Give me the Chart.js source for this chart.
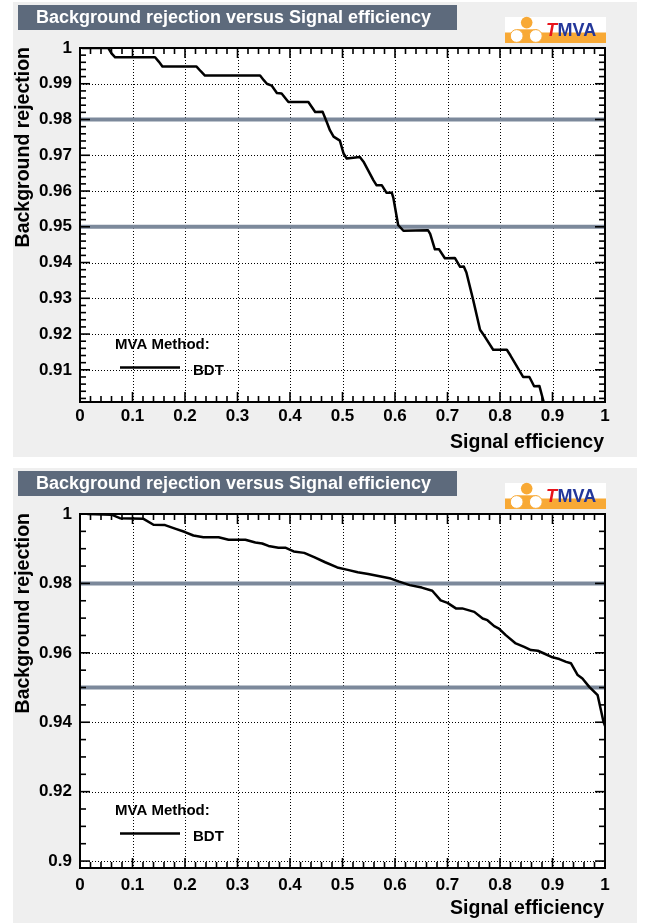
<!DOCTYPE html>
<html>
<head>
<meta charset="utf-8">
<script src="https://cdn.jsdelivr.net/npm/chart.js@4/dist/chart.umd.min.js"></script>
<style>
  html, body { margin: 0; padding: 0; background: #fff; }
  #wrap { position: relative; width: 648px; height: 923px; }
  canvas { position: absolute; left: 0; }
</style>
</head>
<body>
<div id="wrap">
  <canvas id="c1" width="648" height="462" style="top:0px"></canvas>
  <canvas id="c2" width="648" height="457" style="top:466px"></canvas>
</div>
<script>
// ---- labels ----
const titleText = 'Background rejection versus Signal efficiency';
const xAxisTitle = 'Signal efficiency';
const yAxisTitle = 'Background rejection';
const legendHeader = 'MVA Method:';
const methodName = 'BDT';

// ---- tick labels ----
const xTickLabels = ['0', '0.1', '0.2', '0.3', '0.4', '0.5', '0.6', '0.7', '0.8', '0.9', '1'];
const topYTickLabels = ['0.91', '0.92', '0.93', '0.94', '0.95', '0.96', '0.97', '0.98', '0.99', '1'];
const botYTickLabels = ['0.9', '0.92', '0.94', '0.96', '0.98', '1'];

// ---- reference rejection levels ----
const cutLevels = [0.98, 0.95];

// ---- upper panel: ROC curve ----
const topEff = [0.005, 0.054, 0.060, 0.067, 0.143, 0.150, 0.157, 0.222, 0.230, 0.238,
  0.343, 0.350, 0.356, 0.365, 0.375, 0.384, 0.397, 0.435, 0.448, 0.462,
  0.470, 0.476, 0.483, 0.495, 0.502, 0.508, 0.533, 0.540, 0.559, 0.565,
  0.575, 0.584, 0.594, 0.597, 0.606, 0.616, 0.663, 0.667, 0.676, 0.684,
  0.695, 0.714, 0.724, 0.731, 0.736, 0.749, 0.762, 0.771, 0.787, 0.813,
  0.820, 0.844, 0.856, 0.865, 0.875, 0.883, 0.886];
const topRej = [1.0000, 1.0000, 0.9985, 0.9974, 0.9974, 0.9962, 0.9948, 0.9948, 0.9935, 0.9923,
  0.9923, 0.9910, 0.9900, 0.9895, 0.9874, 0.9873, 0.9849, 0.9849, 0.9821, 0.9822,
  0.9793, 0.9770, 0.9752, 0.9741, 0.9705, 0.9691, 0.9695, 0.9682, 0.9630, 0.9616,
  0.9616, 0.9595, 0.9595, 0.9580, 0.9505, 0.9489, 0.9490, 0.9480, 0.9437, 0.9437,
  0.9412, 0.9413, 0.9388, 0.9389, 0.9372, 0.9295, 0.9212, 0.9193, 0.9156, 0.9156,
  0.9140, 0.9080, 0.9080, 0.9054, 0.9055, 0.9011, 0.8990];

// ---- lower panel: ROC curve ----
const botEff = [0.015, 0.060, 0.076, 0.121, 0.140, 0.162, 0.181, 0.200, 0.216, 0.235,
  0.264, 0.283, 0.315, 0.334, 0.347, 0.359, 0.378, 0.391, 0.407, 0.427,
  0.447, 0.467, 0.490, 0.510, 0.529, 0.549, 0.573, 0.592, 0.608, 0.628,
  0.651, 0.671, 0.687, 0.700, 0.716, 0.728, 0.751, 0.767, 0.776, 0.789,
  0.798, 0.811, 0.830, 0.846, 0.859, 0.872, 0.884, 0.900, 0.913, 0.926,
  0.935, 0.948, 0.957, 0.970, 0.986, 0.997, 1.000];
const botRej = [1.0000, 0.9998, 0.9988, 0.9986, 0.9969, 0.9968, 0.9958, 0.9948, 0.9938, 0.9933,
  0.9933, 0.9926, 0.9926, 0.9918, 0.9915, 0.9908, 0.9903, 0.9903, 0.9892, 0.9888,
  0.9875, 0.9861, 0.9846, 0.9839, 0.9832, 0.9827, 0.9820, 0.9814, 0.9805, 0.9795,
  0.9788, 0.9779, 0.9751, 0.9744, 0.9728, 0.9728, 0.9718, 0.9699, 0.9694, 0.9677,
  0.9670, 0.9651, 0.9627, 0.9617, 0.9608, 0.9606, 0.9598, 0.9587, 0.9582, 0.9574,
  0.9570, 0.9536, 0.9526, 0.9502, 0.9478, 0.9402, 0.9390];

const FONT = "'Liberation Sans', Arial, Helvetica, sans-serif";
Chart.defaults.font.family = FONT;
Chart.defaults.color = '#000';

// plot frame in canvas pixels (same for both panels)
const PLOT_LEFT = 80, PLOT_RIGHT = 605, PLOT_TOP = 48, PLOT_BOTTOM = 402;

function stepValues(min, max, step) {
  const out = [];
  const k0 = Math.ceil(min / step - 1e-6), k1 = Math.floor(max / step + 1e-6);
  for (let k = k0; k <= k1; k++) out.push(+(k * step).toFixed(6));
  return out;
}

function seg(ctx, x1, y1, x2, y2) {
  ctx.beginPath(); ctx.moveTo(x1, y1); ctx.lineTo(x2, y2); ctx.stroke();
}

function drawLogo(ctx, x, y) {
  const orange = '#f8a935';
  ctx.save();
  ctx.fillStyle = '#fff';
  ctx.fillRect(x, y, 101, 26);
  ctx.fillStyle = orange;
  ctx.fillRect(x, y + 15.5, 101, 10.5);
  // little figure
  ctx.beginPath(); ctx.arc(x + 21.7, y + 5.6, 5.8, 0, Math.PI * 2); ctx.fill();
  ctx.fillRect(x + 12, y + 12.3, 20, 4);
  [[x + 11.7, y + 19], [x + 30.8, y + 19]].forEach(([cx, cy]) => {
    ctx.beginPath(); ctx.arc(cx, cy, 6.4, 0, Math.PI * 2);
    ctx.fillStyle = '#fff'; ctx.fill();
    ctx.lineWidth = 1; ctx.strokeStyle = orange; ctx.stroke();
  });
  ctx.textBaseline = 'alphabetic'; ctx.textAlign = 'left';
  ctx.font = `italic bold 18px ${FONT}`;
  ctx.fillStyle = '#e8141b';
  ctx.fillText('T', x + 41, y + 18.7);
  ctx.font = `bold 18px ${FONT}`;
  ctx.fillStyle = '#23379a';
  ctx.fillText('MVA', x + 52.5, y + 18.7);
  ctx.restore();
}

function panelPlugin(yLabels, yMin, yMinorStep) {
  return {
    id: 'rootPanel',
    beforeDraw(chart) {
      const { ctx, chartArea: a, width, height } = chart;
      ctx.save();
      ctx.fillStyle = '#fff';
      ctx.fillRect(0, 0, width, height);
      ctx.fillStyle = '#efefef';
      ctx.fillRect(13, 2, 624, 455);
      // title box
      ctx.fillStyle = '#5d6a7c';
      ctx.fillRect(18, 5, 439, 25);
      ctx.fillStyle = '#fff';
      ctx.font = `bold 18px ${FONT}`;
      ctx.textBaseline = 'alphabetic'; ctx.textAlign = 'left';
      ctx.fillText(titleText, 36, 23);
      drawLogo(ctx, 505, 17);
      // plot area
      ctx.fillStyle = '#fff';
      ctx.fillRect(a.left, a.top, a.right - a.left, a.bottom - a.top);
      ctx.restore();
    },
    beforeDatasetsDraw(chart) {
      const { ctx, chartArea: a, scales: { x, y } } = chart;
      ctx.save();
      ctx.strokeStyle = '#000'; ctx.lineWidth = 1; ctx.setLineDash([1, 2]);
      xTickLabels.map(Number).forEach(v => {
        const px = Math.round(x.getPixelForValue(v)) + 0.5;
        if (px > a.left + 3 && px < a.right - 3) seg(ctx, px, a.top, px, a.bottom);
      });
      yLabels.map(Number).forEach(v => {
        const py = Math.round(y.getPixelForValue(v)) + 0.5;
        if (py > a.top + 3 && py < a.bottom - 3) seg(ctx, a.left, py, a.right, py);
      });
      ctx.restore();
    },
    afterDatasetsDraw(chart) {
      const { ctx, chartArea: a, scales: { x, y } } = chart;
      const MAJ = 10, MIN = 6;
      ctx.save();
      ctx.strokeStyle = '#000'; ctx.lineWidth = 1.6; ctx.lineCap = 'butt';
      // x ticks (inward, bottom and top)
      const xMaj = xTickLabels.map(Number);
      stepValues(0, 1, 0.02).forEach(v => {
        const len = xMaj.some(m => Math.abs(m - v) < 1e-6) ? MAJ : MIN;
        const px = x.getPixelForValue(v);
        seg(ctx, px, a.bottom, px, a.bottom - len);
        seg(ctx, px, a.top, px, a.top + len);
      });
      // y ticks (inward, left and right)
      const yMaj = yLabels.map(Number);
      stepValues(yMin, 1, yMinorStep).forEach(v => {
        const len = yMaj.some(m => Math.abs(m - v) < 1e-6) ? MAJ : MIN;
        const py = y.getPixelForValue(v);
        seg(ctx, a.left, py, a.left + len, py);
        seg(ctx, a.right, py, a.right - len, py);
      });
      // frame
      ctx.lineWidth = 2;
      ctx.strokeRect(a.left, a.top, a.right - a.left, a.bottom - a.top);

      // legend
      const ds = chart.data.datasets[0];
      ctx.fillStyle = '#000';
      ctx.textAlign = 'left'; ctx.textBaseline = 'alphabetic';
      ctx.font = `bold 15px ${FONT}`;
      ctx.fillText(legendHeader, 115, 349);
      ctx.strokeStyle = ds.borderColor; ctx.lineWidth = ds.borderWidth;
      seg(ctx, 120, 367.5, 180, 367.5);
      ctx.fillText(ds.label, 193, 375);

      // axis titles
      ctx.font = `bold 19.5px ${FONT}`;
      ctx.textAlign = 'right';
      ctx.fillText(xAxisTitle, a.right - 1, 448);
      ctx.translate(29, a.top - 1);
      ctx.rotate(-Math.PI / 2);
      ctx.fillText(yAxisTitle, 0, 0);
      ctx.restore();
    }
  };
}

function makePanel(canvasId, eff, rej, yLabels, yMin, yMinorStep, xLabelPad) {
  const canvas = document.getElementById(canvasId);
  const H = canvas.height;
  const curve = eff.map((e, i) => ({ x: e, y: rej[i] }));
  const cutSets = cutLevels.map(c => ({
    label: 'cut ' + c,
    data: [{ x: 0, y: c }, { x: 1, y: c }],
    borderColor: '#7c899b',
    borderWidth: 4,
    pointRadius: 0,
    borderCapStyle: 'butt'
  }));
  return new Chart(canvas, {
    type: 'line',
    data: {
      datasets: [{
        label: methodName,
        data: curve,
        borderColor: '#000',
        borderWidth: 2.5,
        pointRadius: 0,
        tension: 0,
        borderJoinStyle: 'round',
        borderCapStyle: 'round'
      }, ...cutSets]
    },
    options: {
      responsive: false,
      devicePixelRatio: 1,
      animation: false,
      events: [],
      layout: { padding: { left: 0, right: 648 - PLOT_RIGHT, top: PLOT_TOP, bottom: 0 } },
      plugins: { legend: { display: false }, title: { display: false }, tooltip: { enabled: false } },
      scales: {
        x: {
          type: 'linear', min: 0, max: 1,
          grid: { display: false, drawTicks: false }, border: { display: false },
          ticks: {
            autoSkip: false, maxRotation: 0, minRotation: 0, padding: xLabelPad,
            font: { size: 17, weight: 'bold' }, color: '#000',
            callback: (v, i) => xTickLabels[i]
          },
          afterBuildTicks: s => { s.ticks = xTickLabels.map(l => ({ value: Number(l) })); },
          afterFit: s => { s.height = H - PLOT_BOTTOM; s.paddingLeft = 0; s.paddingRight = 0; }
        },
        y: {
          type: 'linear', min: yMin, max: 1,
          grid: { display: false, drawTicks: false }, border: { display: false },
          ticks: {
            autoSkip: false, padding: 8,
            font: { size: 17, weight: 'bold' }, color: '#000',
            callback: (v, i) => yLabels[i]
          },
          afterBuildTicks: s => { s.ticks = yLabels.map(l => ({ value: Number(l) })); },
          afterFit: s => { s.width = PLOT_LEFT; s.paddingTop = 0; s.paddingBottom = 0; }
        }
      }
    },
    plugins: [panelPlugin(yLabels, yMin, yMinorStep)]
  });
}

makePanel('c1', topEff, topRej, topYTickLabels, 0.901, 0.002, 4);
makePanel('c2', botEff, botRej, botYTickLabels, 0.898, 0.005, 7);
</script>
</body>
</html>
